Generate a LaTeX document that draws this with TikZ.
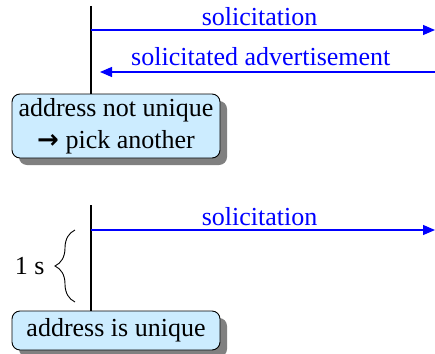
\documentclass[tikz,border=0pt]{standalone}
\usepackage{fontspec}
\setmainfont{Liberation Serif}
\newfontfamily\symfont{DejaVu Sans}
\usetikzlibrary{arrows.meta, positioning, shadows, decorations.pathreplacing}
\definecolor{statecolor}{RGB}{204,236,255}
\definecolor{msgcolor}{RGB}{0,0,255}
\tikzset{
    state/.style={rectangle, draw=black, rounded corners=8pt, fill=statecolor, line width=0.9pt,
        minimum width=208pt, align=center, inner sep=0pt,
        drop shadow={shadow xshift=7pt, shadow yshift=-7pt, fill=black!50, opacity=1}},
    lifeline/.style={line width=1.1pt, black},
    msg/.style={-{Triangle[length=12pt, width=10pt]}, line width=1.2pt, draw=msgcolor},
    msglabel/.style={text=msgcolor, inner sep=0pt}
}

\begin{document}
\begin{tikzpicture}[x=1pt, y=-1pt, font=\fontsize{26}{32}\selectfont]
    \useasboundingbox (0,0) rectangle (435,353);

    % first attempt
    \coordinate (top1) at (91,6);
    \node[state, minimum height=64pt] (notunique) at (116,126)
        {address not unique\\{\symfont\bfseries →} pick another};
    \coordinate (sol1a) at (91,30);
    \coordinate (sol1b) at (435,30);
    \coordinate (adva) at (435,72);
    \coordinate (advb) at (100,72);

    \draw[lifeline] (top1) -- (top1 |- notunique.north);
    \draw[msg] (sol1a) -- node[msglabel, above=4pt, pos=0.49] (sol1lbl) {solicitation} (sol1b);
    \draw[msg] (adva) -- node[msglabel, above=6pt, pos=0.52] (advlbl) {solicitated advertisement} (advb);

    % second attempt
    \coordinate (top2) at (91,205);
    \node[state, minimum height=39pt] (unique) at (116,330.5) {address is unique};
    \coordinate (sol2a) at (91,230);
    \coordinate (sol2b) at (435,230);
    \coordinate (bracebot) at (75,302);
    \coordinate (bracetop) at (75,230);

    \draw[lifeline] (top2) -- (top2 |- unique.north);
    \draw[msg] (sol2a) -- node[msglabel, above=4pt, pos=0.49] (sol2lbl) {solicitation} (sol2b);
    \draw[line width=0.9pt, decorate, decoration={brace, amplitude=20pt}] (bracebot) -- (bracetop)
        node[midway, left=30pt, inner sep=0pt] (waitlbl) {1 s};

\end{tikzpicture}
\end{document}
